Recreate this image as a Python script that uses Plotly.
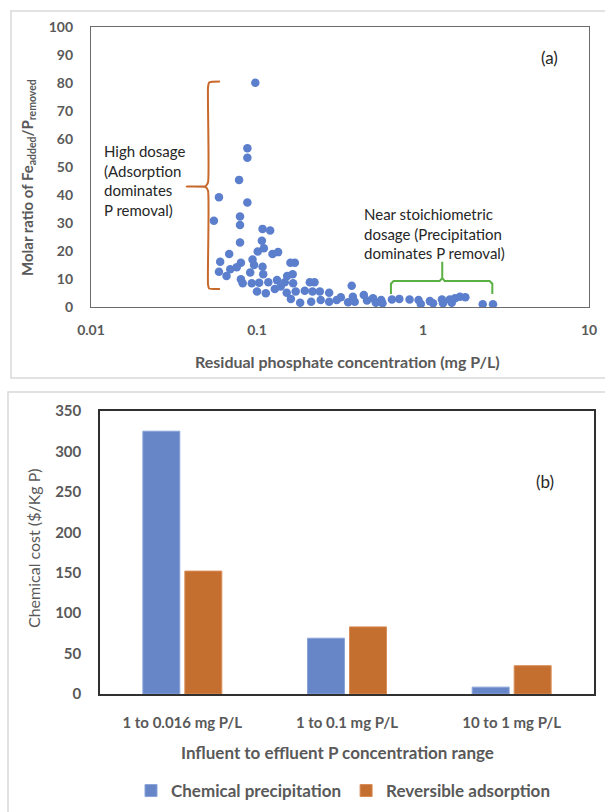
import plotly.graph_objects as go

W, H = 605, 812

# ---------- Panel (a) data ----------
residual_p = [0.0977, 0.0875, 0.0875, 0.078, 0.059, 0.0875, 0.055, 0.079, 0.079, 0.079,
              0.068, 0.060, 0.080, 0.059, 0.0655, 0.069, 0.0755, 0.080, 0.082,
              0.108, 0.120, 0.107, 0.110, 0.101, 0.124, 0.134, 0.094, 0.159, 0.169,
              0.096, 0.108, 0.091, 0.164, 0.109, 0.152, 0.093, 0.103, 0.117, 0.132,
              0.147, 0.165, 0.208, 0.222, 0.372, 0.128, 0.139, 0.100, 0.113, 0.151,
              0.171, 0.194, 0.216, 0.239, 0.272, 0.160, 0.182, 0.212, 0.242, 0.272,
              0.302, 0.320, 0.354, 0.388, 0.378,
              0.44, 0.46, 0.50, 0.52, 0.56, 0.57, 0.65, 0.72, 0.83, 0.94, 0.97, 1.10,
              1.15, 1.30, 1.32, 1.45, 1.49, 1.56, 1.67, 1.80, 2.29, 2.64]
molar_ratio = [80.1, 56.7, 53.3, 45.4, 39.2, 37.3, 30.8, 32.3, 29.3, 23.0,
               18.9, 16.2, 15.8, 12.6, 11.1, 13.5, 14.2, 9.9, 8.5,
               27.9, 27.3, 23.7, 21.0, 19.8, 18.9, 19.6, 17.0, 15.8, 15.8,
               15.0, 14.4, 12.3, 11.7, 11.7, 11.1, 8.5, 8.7, 8.8, 9.6,
               8.8, 8.5, 8.8, 8.8, 7.6, 6.4, 7.3, 5.5, 4.9, 5.1,
               5.5, 5.8, 5.5, 5.5, 5.1, 2.9, 1.5, 1.9, 2.5, 1.9,
               2.5, 3.5, 1.7, 1.9, 3.7,
               4.3, 2.3, 3.1, 1.5, 2.5, 1.3, 2.7, 2.9, 2.7, 2.5, 1.1, 2.1,
               1.3, 2.7, 1.3, 2.7, 1.5, 3.1, 3.7, 3.5, 1.0, 1.0]
x_tickvals = [0.01, 0.1, 1, 10]
x_ticktext = ["0.01", "0.1", "1", "10"]

# brace anchors (data units)
brace_a_x = [0.0598, 0.0515, 0.0507, 0.0507, 0.049, 0.0377, 0.049, 0.0507, 0.0507, 0.0515, 0.0598]
brace_a_y = [80.5, 80.2, 78.5, 44.5, 43.2, 43.0, 42.8, 41.5, 8.0, 6.6, 6.4]
brace_b_x = [0.641, 0.641, 0.665, 1.26, 1.306, 1.306, 1.306, 1.35, 2.52, 2.616, 2.616]
brace_b_y = [4.6, 8.3, 9.3, 9.3, 10.3, 16.2, 10.3, 9.3, 9.3, 8.3, 4.6]

# ---------- Panel (b) data ----------
ranges = ["1 to 0.016 mg P/L", "1 to 0.1 mg P/L", "10 to 1 mg P/L"]
chem_precip = [325, 69, 8.5]
rev_adsorb = [152, 83, 35]

FONT = "Lato"
GRAY = "#595959"
DARK = "#262626"

def px(x):
    return x / W

def py(y):
    return 1 - y / H

fig = go.Figure()

fig.add_trace(go.Scatter(x=residual_p, y=molar_ratio, mode="markers",
                         marker=dict(color="#5b7fcc", size=8.5),
                         xaxis="x", yaxis="y", showlegend=False))
fig.add_trace(go.Scatter(x=brace_a_x, y=brace_a_y, mode="lines",
                         line=dict(color="#c8692c", width=2, shape="spline", smoothing=0.5),
                         xaxis="x", yaxis="y", showlegend=False, hoverinfo="skip"))
fig.add_trace(go.Scatter(x=brace_b_x, y=brace_b_y, mode="lines",
                         line=dict(color="#5bb043", width=2),
                         xaxis="x", yaxis="y", showlegend=False, hoverinfo="skip"))

fig.add_trace(go.Bar(x=ranges, y=chem_precip, name="<b>Chemical precipitation</b>",
                     marker=dict(color="#6686c8", line=dict(color="#8aa3d8", width=1)),
                     xaxis="x2", yaxis="y2"))
fig.add_trace(go.Bar(x=ranges, y=rev_adsorb, name="<b>Reversible adsorption</b>",
                     marker=dict(color="#c46e30", line=dict(color="#d98c55", width=1)),
                     xaxis="x2", yaxis="y2"))

tick_a = dict(family=FONT, size=14, color=GRAY, weight="bold")
tick_b = dict(family=FONT, size=15, color=GRAY, weight="bold")

fig.update_layout(
    width=W, height=H,
    margin=dict(l=0, r=0, t=0, b=0, autoexpand=False),
    paper_bgcolor="white", plot_bgcolor="white",
    font=dict(family=FONT, color=GRAY),
    barmode="group", bargap=0.49, bargroupgap=0.12,
    xaxis=dict(type="log", range=[-2, 1], domain=[px(91), px(589)],
               tickvals=x_tickvals, ticktext=x_ticktext, showgrid=False,
               showline=True, mirror=True, linecolor="#6b6b6b", linewidth=1.3,
               ticks="", tickfont=tick_a, automargin=False,
               ticklabelstandoff=10, anchor="y", zeroline=False),
    yaxis=dict(range=[0, 100], dtick=10, domain=[py(307), py(27)], showgrid=False,
               showline=True, mirror=True, linecolor="#6b6b6b", linewidth=1.3,
               ticks="", tickfont=tick_a, ticklabelstandoff=14, anchor="x",
               zeroline=False, automargin=False),
    xaxis2=dict(domain=[px(100), px(594)], showgrid=False, showline=True, mirror=True,
                linecolor="#303030", linewidth=1.5, ticks="",
                tickfont=tick_b, automargin=False,
                ticklabelstandoff=14, anchor="y2"),
    yaxis2=dict(range=[0, 350], dtick=50, domain=[py(694), py(411)], showgrid=False,
                showline=True, mirror=True, linecolor="#303030", linewidth=1.5,
                ticks="", tickfont=tick_b, automargin=False,
                ticklabelstandoff=14, anchor="x2", zeroline=False),
    legend=dict(orientation="h", x=px(343), xanchor="center", y=py(791), yanchor="middle",
                font=dict(family=FONT, size=17, color=GRAY), itemwidth=30,
                bgcolor="rgba(0,0,0,0)", traceorder="normal"),
    shapes=[
        dict(type="rect", xref="paper", yref="paper", x0=px(11), x1=1.05,
             y0=py(378), y1=py(11), line=dict(color="#d9d9d9", width=1.5)),
        dict(type="rect", xref="paper", yref="paper", x0=px(8), x1=1.05,
             y0=-0.05, y1=py(392), line=dict(color="#d9d9d9", width=1.5)),
    ],
)

ann = [
    dict(text="<b>Molar ratio of Fe<sub>added</sub>/P<sub>removed</sub></b>", x=px(28), y=py(178),
         textangle=-90, font=dict(size=15, color=GRAY)),
    dict(text="<b>Residual phosphate concentration (mg P/L)</b>", x=px(348), y=py(362),
         font=dict(size=16, color=GRAY)),
    dict(text="(a)", x=px(549), y=py(58), font=dict(size=17, color=DARK)),
    dict(text="High dosage<br>(Adsorption<br>dominates<br>P removal)", x=px(102), y=py(181),
         xanchor="left", align="left", font=dict(size=15, color=DARK)),
    dict(text="Near stoichiometric<br>dosage (Precipitation<br>dominates P removal)",
         x=px(362), y=py(233), xanchor="left", align="left",
         font=dict(size=15, color=DARK)),
    dict(text="Chemical cost ($/Kg P)", x=px(33), y=py(548), textangle=-90,
         font=dict(size=16, color=GRAY)),
    dict(text="<b>Influent to effluent P concentration range</b>", x=px(337), y=py(752),
         font=dict(size=17, color=GRAY)),
    dict(text="(b)", x=px(545), y=py(481), font=dict(size=17, color=DARK)),
]
for a in ann:
    a.update(xref="paper", yref="paper", showarrow=False)
    a.setdefault("xanchor", "center")
    a.setdefault("yanchor", "middle")
    a["font"]["family"] = FONT
fig.update_layout(annotations=ann)

fig.write_html("out.html", config={"displayModeBar": False},
               post_script="document.body.style.margin='0';document.body.style.overflow='hidden';")
